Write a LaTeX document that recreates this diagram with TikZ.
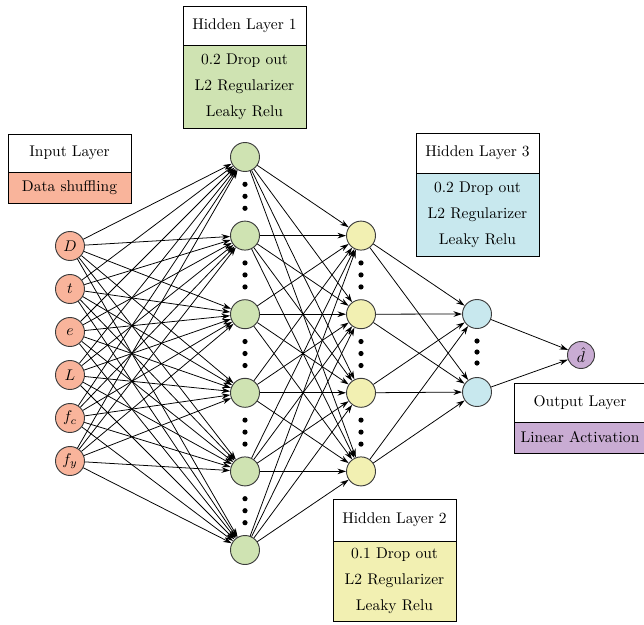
\documentclass[tikz,border=0pt]{standalone}
\usetikzlibrary{arrows.meta}
\def\PX{0.645pt}
\definecolor{inC}{RGB}{249,180,155}
\definecolor{hoC}{RGB}{207,227,178}
\definecolor{htC}{RGB}{242,240,178}
\definecolor{hrC}{RGB}{200,232,238}
\definecolor{outC}{RGB}{201,172,211}
\definecolor{nodeB}{RGB}{60,60,60}
\begin{document}
\begin{tikzpicture}[x=\PX,y=-\PX,
  neuron/.style={circle, draw=nodeB, line width=0.6pt, minimum size=29*\PX, inner sep=0pt},
  conn/.style={-{Stealth[length=5.5pt,width=3.6pt]}, line width=0.5pt},
  boxhead/.style={draw, line width=0.6pt, fill=white, minimum width=123*\PX, inner sep=0pt},
  boxbody/.style={draw, line width=0.6pt, minimum width=123*\PX, align=center, inner sep=0pt},
  dotf/.style={fill=black}]
\useasboundingbox (0,0) rectangle (644,624);

% input layer
\node[neuron, fill=inC] (i1) at (70,246) {$D$};
\node[neuron, fill=inC] (i2) at (70,289) {$t$};
\node[neuron, fill=inC] (i3) at (70,332) {$e$};
\node[neuron, fill=inC] (i4) at (70,375) {$L$};
\node[neuron, fill=inC] (i5) at (70,418) {$f_c$};
\node[neuron, fill=inC] (i6) at (70,461) {$f_y$};

% hidden layer 1
\node[neuron, fill=hoC] (a1) at (245,157) {};
\node[neuron, fill=hoC] (a2) at (245,235.6) {};
\node[neuron, fill=hoC] (a3) at (245,314.2) {};
\node[neuron, fill=hoC] (a4) at (245,392.8) {};
\node[neuron, fill=hoC] (a5) at (245,471.4) {};
\node[neuron, fill=hoC] (a6) at (245,550) {};

% hidden layer 2
\node[neuron, fill=htC] (b1) at (361,235.6) {};
\node[neuron, fill=htC] (b2) at (361,314.2) {};
\node[neuron, fill=htC] (b3) at (361,392.8) {};
\node[neuron, fill=htC] (b4) at (361,471.4) {};

% hidden layer 3
\node[neuron, fill=hrC] (c1) at (477,314) {};
\node[neuron, fill=hrC] (c2) at (477,392) {};

% output
\node[neuron, fill=outC, minimum size=27*\PX] (o) at (581,355) {$\hat{d}$};

% dots
\foreach \m in {196.3,274.9,353.5,432.1,510.7}{
  \foreach \d in {-12,0,12}{
    \fill[dotf] (245,\m+\d) circle[radius=2.6*\PX];
  }
}
\foreach \m in {274.9,353.5,432.1}{
  \foreach \d in {-12,0,12}{
    \fill[dotf] (361,\m+\d) circle[radius=2.6*\PX];
  }
}
\foreach \d in {-11,0,11}{
  \fill[dotf] (477,352+\d) circle[radius=2.6*\PX];
}

% connections
\foreach \s in {i1,i2,i3,i4,i5,i6}{
  \foreach \t in {a1,a2,a3,a4,a5,a6}{
    \draw[conn] (\s) -- (\t);
  }
}
\foreach \s in {a1,a2,a3,a4,a5,a6}{
  \foreach \t in {b1,b2,b3,b4}{
    \draw[conn] (\s) -- (\t);
  }
}
\foreach \s in {b1,b2,b3,b4}{
  \foreach \t in {c1,c2}{
    \draw[conn] (\s) -- (\t);
  }
}
\draw[conn] (c1) -- (o);
\draw[conn] (c2) -- (o);

% label boxes
\node[boxhead, minimum height=38*\PX] (inh) at (69.5,153) {Input Layer};
\node[boxbody, fill=inC, minimum height=31*\PX] (inb) at (69.5,187.5) {Data shuffling};

\node[boxhead, minimum height=39*\PX] (hoh) at (244.5,25.5) {Hidden Layer 1};
\node[boxbody, fill=hoC, minimum height=83*\PX] (hob) at (244.5,86.5) {0.2 Drop out\\[4.8pt]L2 Regularizer\\[4.8pt]Leaky Relu};

\node[boxhead, minimum height=40*\PX] (hrh) at (477.5,153) {Hidden Layer 3};
\node[boxbody, fill=hrC, minimum height=83*\PX] (hrb) at (477.5,214.5) {0.2 Drop out\\[4.8pt]L2 Regularizer\\[4.8pt]Leaky Relu};

\node[boxhead, minimum height=42*\PX] (hth) at (394.5,520) {Hidden Layer 2};
\node[boxbody, fill=htC, minimum height=80*\PX] (htb) at (394.5,581) {0.1 Drop out\\[4.8pt]L2 Regularizer\\[4.8pt]Leaky Relu};

\node[boxhead, minimum width=132*\PX, minimum height=39*\PX] (oh) at (580,402.5) {Output Layer};
\node[boxbody, fill=outC, minimum width=132*\PX, minimum height=31*\PX] (ob) at (580,437.5) {Linear Activation};
\end{tikzpicture}
\end{document}
